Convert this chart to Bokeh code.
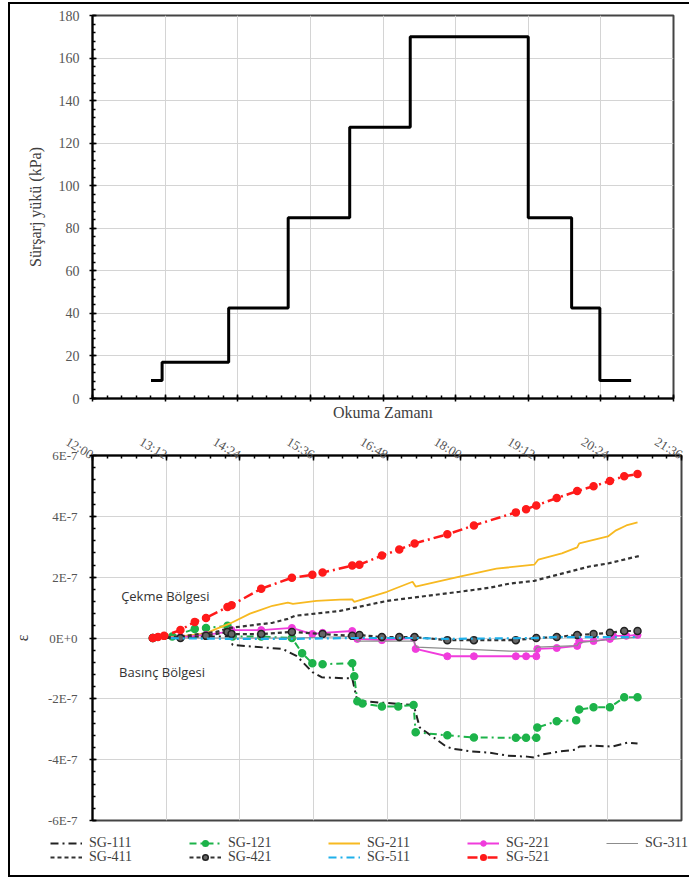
import numpy as np
from bokeh.plotting import figure
from bokeh.models import (FixedTicker, CustomJSTickFormatter, Label, Legend,
                          LegendItem, Range1d)
from bokeh.layouts import column
from bokeh.embed import file_html
from bokeh.resources import INLINE

# ---------------- data ----------------
time_ticks = ["12:00", "13:12", "14:24", "15:36", "16:48", "18:00", "19:12", "20:24", "21:36"]

# top chart: surcharge load steps (kPa)
load_times = ["12:58", "13:09", "14:15", "15:14", "16:15", "17:15", "19:12", "19:55", "20:23", "20:54"]
loads = [8.5, 17, 42.5, 85, 127.5, 170, 85, 42.5, 8.5, 8.5]

# bottom chart: strain readings (x 1E-7)
t_111 = ["12:59", "13:26", "14:01", "14:14", "14:17", "15:06", "15:20", "15:35", "15:44", "16:05",
         "16:14", "16:19", "16:24", "17:14", "17:20", "17:46", "17:52", "18:11", "18:28", "18:46",
         "19:05", "19:12", "19:19", "19:37", "19:53", "19:56", "20:10", "20:28", "20:43", "20:53"]
v_111 = [0, 0.02, 0.05, 0.05, -0.23, -0.36, -0.6, -1.12, -1.29, -1.32,
         -1.32, -2.08, -2.08, -2.2, -2.94, -3.57, -3.64, -3.73, -3.77, -3.87,
         -3.9, -3.93, -3.83, -3.73, -3.67, -3.57, -3.54, -3.57, -3.44, -3.47]

t_121 = ["12:59", "13:18", "13:40", "13:51", "14:12", "14:14", "14:17", "14:45", "15:15", "15:25",
         "15:35", "15:45", "16:14", "16:16", "16:19", "16:24", "16:43", "16:59", "17:14", "17:16",
         "17:47", "18:13", "18:54", "19:04", "19:14", "19:15", "19:34", "19:53", "19:56", "20:10",
         "20:26", "20:40", "20:53"]
v_121 = [0, 0.05, 0.3, 0.33, 0.4, 0.2, 0.05, 0.05, 0.0, -0.5,
         -0.83, -0.86, -0.83, -1.26, -2.08, -2.15, -2.25, -2.25, -2.2, -3.1,
         -3.2, -3.27, -3.28, -3.28, -3.28, -2.94, -2.74, -2.7, -2.35, -2.28,
         -2.28, -1.95, -1.95]

t_211 = ["12:59", "13:26", "13:51", "14:01", "14:16", "14:34", "14:56", "15:11", "15:16", "15:39",
         "16:02", "16:14", "16:16", "16:48", "17:13", "17:16", "17:59", "18:35", "19:12", "19:16",
         "19:39", "19:54", "19:56", "20:24", "20:32", "20:42", "20:53"]
v_211 = [0, 0.05, 0.15, 0.3, 0.5, 0.8, 1.06, 1.16, 1.12, 1.22,
         1.26, 1.27, 1.19, 1.52, 1.85, 1.69, 2.02, 2.28, 2.41, 2.58,
         2.78, 2.98, 3.11, 3.34, 3.54, 3.70, 3.80]

t_221 = ["12:59", "13:26", "13:51", "14:12", "14:16", "14:45", "15:15", "15:35", "15:45", "16:14",
         "16:19", "16:43", "17:14", "17:16", "17:47", "18:13", "18:54", "19:04", "19:14", "19:15",
         "19:34", "19:54", "19:56", "20:10", "20:26", "20:29", "20:42", "20:53"]
v_221 = [0, 0.03, 0.1, 0.2, 0.26, 0.26, 0.33, 0.13, 0.17, 0.23,
         -0.03, -0.07, 0.0, -0.36, -0.6, -0.6, -0.6, -0.6, -0.6, -0.36,
         -0.33, -0.26, -0.1, -0.1, -0.03, 0.07, 0.07, 0.1]

t_311 = ["12:59", "14:16", "15:15", "16:14", "16:19", "17:14", "17:17", "18:48", "19:12", "19:15",
         "19:54", "19:56", "20:26", "20:53"]
v_311 = [0, 0.0, 0.0, 0.05, -0.1, -0.1, -0.3, -0.43, -0.43, -0.3,
         -0.25, -0.15, -0.05, 0.03]

t_411 = ["12:59", "13:26", "14:01", "14:14", "14:56", "15:11", "15:18", "16:02", "16:48", "17:59",
         "18:28", "18:48", "19:12", "20:06", "20:24", "20:55"]
v_411 = [0, 0.05, 0.2, 0.33, 0.5, 0.63, 0.73, 0.89, 1.22, 1.52,
         1.65, 1.79, 1.88, 2.35, 2.45, 2.7]

t_421 = ["12:59", "13:26", "13:51", "14:12", "14:16", "14:45", "15:15", "15:45", "16:14", "16:21",
         "16:43", "17:00", "17:15", "17:47", "18:13", "18:54", "19:14", "19:34", "19:54", "20:10",
         "20:26", "20:40", "20:53"]
v_421 = [0, 0.0, 0.07, 0.2, 0.13, 0.13, 0.2, 0.13, 0.07, 0.1,
         0.03, 0.03, 0.03, -0.07, -0.07, -0.07, 0.0, 0.03, 0.1, 0.13,
         0.17, 0.23, 0.23]

t_511 = ["12:59", "14:16", "15:15", "16:14", "17:15", "17:47", "19:12", "19:34", "20:53"]
v_511 = [0, -0.03, -0.03, 0.0, 0.0, -0.03, 0.0, 0.03, 0.03]

t_521 = ["12:59", "13:04", "13:10", "13:26", "13:40", "13:51", "14:12", "14:16", "14:45", "15:15",
         "15:35", "15:45", "16:14", "16:21", "16:43", "17:00", "17:15", "17:47", "18:13", "18:54",
         "19:04", "19:14", "19:34", "19:54", "20:10", "20:26", "20:40", "20:53"]
v_521 = [0, 0.03, 0.07, 0.26, 0.53, 0.66, 1.02, 1.08, 1.62, 1.98,
         2.08, 2.15, 2.38, 2.41, 2.71, 2.91, 3.11, 3.41, 3.70, 4.13,
         4.23, 4.36, 4.60, 4.83, 4.99, 5.16, 5.32, 5.39]

y_ticks_top = [0, 20, 40, 60, 80, 100, 120, 140, 160, 180]
y_ticks_bottom = [-6, -4, -2, 0, 2, 4, 6]  # x 1E-7

zone_labels = ["Çekme Bölgesi", "Basınç Bölgesi"]
zone_label_t = ["12:28", "12:26"]
zone_label_v = [1.39, -1.12]

legend_row1 = ["SG-111", "SG-121", "SG-211", "SG-221", "SG-311"]
legend_row2 = ["SG-411", "SG-421", "SG-511", "SG-521"]

# ---------------- helpers ----------------
SCALE = 1e-7


def tmin(s):
    h, m = s.split(":")
    return int(h) * 60 + int(m)


def tl(lst):
    return [tmin(s) for s in lst]


def sv(lst):
    return [v * SCALE for v in lst]


x_major = tl(time_ticks)
x_minor = list(np.arange(x_major[0], x_major[-1] + 0.01, 14.4))

time_fmt = CustomJSTickFormatter(code="""
    const h = Math.floor(tick / 60);
    const m = Math.round(tick - h * 60);
    return h + ":" + String(m).padStart(2, "0");
""")

SERIF = "Liberation Serif"
TXT = "#404040"
GRID = "#d4d4d4"

# series styles: (line kwargs, marker kwargs or None)
STYLES = {
    "SG-111": (dict(line_color="#222222", line_width=2, line_dash="8 4 2 4"), None),
    "SG-121": (dict(line_color="#1db34a", line_width=2, line_dash="7 4 2 4"),
               dict(marker="circle", size=7, line_color="#1db34a", fill_color="#1db34a", line_width=1.5)),
    "SG-211": (dict(line_color="#f7b921", line_width=1.8), None),
    "SG-221": (dict(line_color="#f03cdc", line_width=1.8),
               dict(marker="circle", size=7, line_color="#f03cdc", fill_color="#f03cdc")),
    "SG-311": (dict(line_color="#8c8c8c", line_width=1.2), None),
    "SG-411": (dict(line_color="#333333", line_width=2.2, line_dash="4 3"), None),
    "SG-421": (dict(line_color="#333333", line_width=2.2, line_dash="4 3"),
               dict(marker="circle", size=7, line_color="#222222", fill_color="#666666", line_width=1.5)),
    "SG-511": (dict(line_color="#1fb0ea", line_width=2.2, line_dash="8 4 2 4"), None),
    "SG-521": (dict(line_color="#ff1a1a", line_width=2.5, line_dash="10 4 2 4"),
               dict(marker="circle", size=7, line_color="#ff1a1a", fill_color="#ff1a1a", line_width=1.5)),
}
DATA = {
    "SG-111": (t_111, v_111), "SG-121": (t_121, v_121), "SG-211": (t_211, v_211),
    "SG-221": (t_221, v_221), "SG-311": (t_311, v_311), "SG-411": (t_411, v_411),
    "SG-421": (t_421, v_421), "SG-511": (t_511, v_511), "SG-521": (t_521, v_521),
}

# ---------------- top figure ----------------
p1 = figure(frame_width=581, frame_height=383,
            x_range=Range1d(x_major[0], x_major[-1]), y_range=Range1d(0, 180),
            output_backend="svg", toolbar_location=None,
            min_border_left=80, min_border_right=18, min_border_top=11, min_border_bottom=26,
            styles={"box-shadow": "-2px 0 0 0 #000, 0 -2px 0 0 #000, -2px -2px 0 0 #000",
                    "position": "relative", "z-index": "2"})
p1.step(tl(load_times), loads, mode="after", line_width=3, line_color="black")

p1.xaxis.ticker = FixedTicker(ticks=x_major, minor_ticks=x_minor)
p1.xaxis.formatter = CustomJSTickFormatter(code="return '';")
p1.xaxis.major_label_text_font_size = "0px"
p1.xaxis.major_label_standoff = 0
p1.xaxis.axis_label = "Okuma Zamanı"
p1.xaxis.axis_label_standoff = 2
p1.yaxis.ticker = FixedTicker(ticks=y_ticks_top,
                              minor_ticks=list(np.arange(0, 180.1, 4)))
p1.yaxis.axis_label = "Sürşarj yükü (kPa)"

# ---------------- bottom figure ----------------
p2 = figure(frame_width=589, frame_height=365,
            x_range=Range1d(x_major[0], x_major[-1]), y_range=Range1d(-6 * SCALE, 6 * SCALE),
            x_axis_location="above",
            output_backend="svg", toolbar_location=None,
            min_border_left=73, min_border_right=17, min_border_top=30, min_border_bottom=10,
            styles={"box-shadow": "-2px 0 0 0 #000"})

p2.xaxis.ticker = FixedTicker(ticks=x_major, minor_ticks=x_minor)
p2.xaxis.formatter = time_fmt
p2.xaxis.major_label_orientation = -0.54
p2.yaxis.ticker = FixedTicker(ticks=[v * SCALE for v in y_ticks_bottom],
                              minor_ticks=[v * SCALE for v in np.arange(-6, 6.01, 0.4)])
p2.yaxis.formatter = CustomJSTickFormatter(code="""
    if (Math.abs(tick) < 1e-12) return "0E+0";
    return Math.round(tick * 1e7) + "E-7";
""")
p2.yaxis.axis_label = "ε"

for p in (p1, p2):
    p.outline_line_color = "#444444"
    p.outline_line_width = 2
    p.xgrid.grid_line_color = GRID
    p.ygrid.grid_line_color = GRID
    p.xgrid.grid_line_width = 1
    p.ygrid.grid_line_width = 1
    for ax in (p.xaxis[0], p.yaxis[0]):
        ax.axis_line_color = "black"
        ax.axis_line_width = 2
        ax.major_tick_line_color = "black"
        ax.minor_tick_line_color = "black"
        ax.major_tick_line_width = 1.5
        ax.minor_tick_line_width = 1.5
        ax.major_tick_in = 4
        ax.major_tick_out = 3
        ax.minor_tick_in = 3
        ax.minor_tick_out = 0
        ax.major_label_text_font = SERIF
        ax.major_label_text_color = "#555555"
        ax.axis_label_text_font = SERIF
        ax.axis_label_text_font_size = "16px"
        ax.axis_label_text_font_style = "normal"
        ax.axis_label_text_color = TXT

p1.yaxis.major_label_text_font_size = "14px"
p1.yaxis.major_label_standoff = 10
p1.yaxis.axis_label_standoff = 12
p2.yaxis.major_label_text_font_size = "13px"
p2.yaxis.major_label_standoff = 12
p2.yaxis.axis_label_standoff = 14
p2.xaxis.major_label_text_font_size = "13px"
p2.xaxis.major_label_standoff = 0
p2.xaxis.major_tick_out = 0
p2.xaxis.major_tick_in = 5

for name in legend_row1 + legend_row2:
    lkw, mkw = STYLES[name]
    t, v = DATA[name]
    p2.line(tl(t), sv(v), **lkw)
    if mkw:
        p2.scatter(tl(t), sv(v), **mkw)

for txt, t, v in zip(zone_labels, zone_label_t, zone_label_v):
    p2.add_layout(Label(x=tmin(t), y=v * SCALE, text=txt, text_font="Open Sans",
                        text_font_size="13px", text_color="#333333", text_baseline="middle"))

# ---------------- legend strip ----------------
p3 = figure(frame_width=679, frame_height=41,
            x_range=Range1d(0, 1), y_range=Range1d(0, 1),
            output_backend="svg", toolbar_location=None,
            min_border_left=0, min_border_right=0, min_border_top=0, min_border_bottom=4,
            styles={"box-shadow": "-2px 0 0 0 #000, 0 2px 0 0 #000, -2px 2px 0 0 #000"})
p3.axis.visible = False
p3.grid.visible = False
p3.outline_line_color = None


def legend_items(names):
    items = []
    for name in names:
        lkw, mkw = STYLES[name]
        # legend-sample renderers (a single undefined point, nothing is drawn in the plot)
        rs = [p3.line([np.nan], [np.nan], **lkw)]
        if mkw:
            rs.append(p3.scatter([np.nan], [np.nan], **mkw))
        items.append(LegendItem(label=name, renderers=rs))
    return items


for names, vy in ((legend_row1, 20), (legend_row2, 6)):
    lg = Legend(items=legend_items(names), orientation="horizontal",
                location=(40, vy), padding=0, margin=0, spacing=55,
                glyph_width=32, glyph_height=14, label_height=14, label_width=45,
                label_standoff=7, label_text_font=SERIF, label_text_font_size="14px",
                label_text_color=TXT, border_line_alpha=0, background_fill_alpha=0)
    p3.add_layout(lg)

layout = column(p1, p2, p3, margin=(4, 0, 0, 10))

open("out.html", "w").write(file_html(layout, INLINE))
